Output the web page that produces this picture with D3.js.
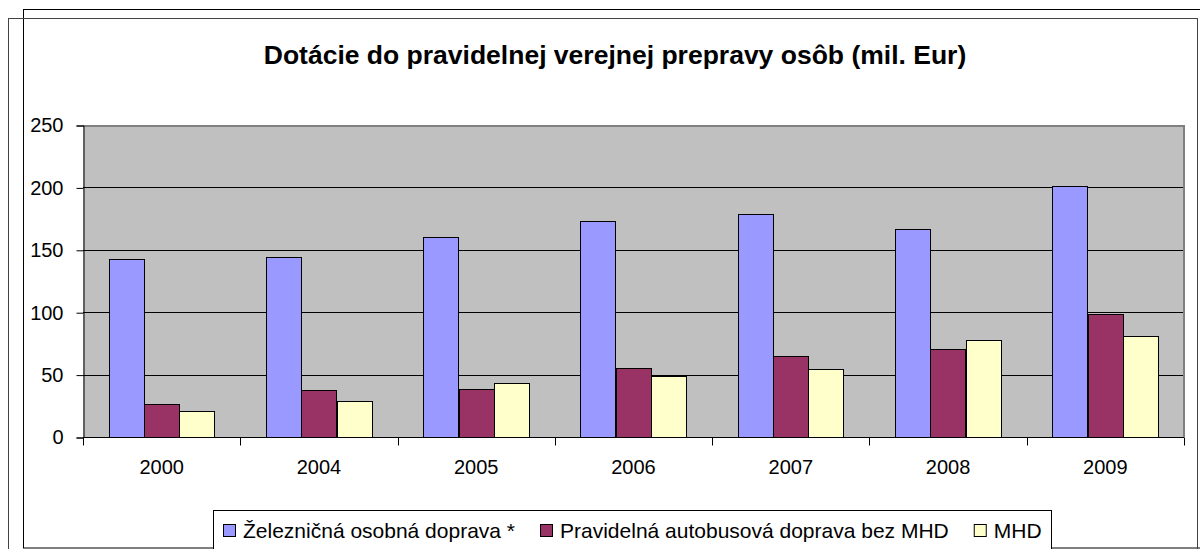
<!DOCTYPE html>
<html lang="sk">
<head>
<meta charset="UTF-8">
<title>Dotácie do pravidelnej verejnej prepravy osôb</title>
<script src="https://d3js.org/d3.v7.min.js"></script>
<style>
    body{ margin:0; background:#fff; }
    text{ font-family:"Liberation Sans", Arial, sans-serif; fill:#000; }
    .frame{ fill:none; stroke-width:1; }
    .grid{ stroke:#000; stroke-width:1; shape-rendering:crispEdges; }
    .bar{ stroke:#000; stroke-width:1; shape-rendering:crispEdges; }
</style>
</head>
<body>
<script>
    // data
    var years = ["2000","2004","2005","2006","2007","2008","2009"];
    var zeleznicna = [142.6, 144.2, 160.6, 173.2, 178.8, 166.3, 201.4];
    var autobusova = [26.5, 37.8, 38.8, 55.3, 65.2, 70.8, 98.5];
    var mhd = [21.0, 29.2, 43.0, 48.6, 54.2, 77.7, 80.6];
    var seriesNames = ["Železničná osobná doprava *", "Pravidelná autobusová doprava bez MHD", "MHD"];
    var colors = ["#9999FF", "#993366", "#FFFFCC"];
    var yTicks = [0, 50, 100, 150, 200, 250];

    var series = [zeleznicna, autobusova, mhd];

    var W = 1200, H = 549;
    var svg = d3.select("body").append("svg").attr("width", W).attr("height", H);

    // outer frames
    svg.append("rect").attr("class","frame").attr("x",23.5).attr("y",9.5)
        .attr("width",1190).attr("height",538.5).attr("stroke","#000");
    svg.append("rect").attr("class","frame").attr("x",8.5).attr("y",18.5)
        .attr("width",1189).attr("height",560).attr("stroke","#444");

    var plot = {left:83, right:1184, top:125, bottom:437};

    var x = d3.scaleBand().domain(years).range([plot.left, plot.right])
        .paddingInner(0.326).paddingOuter(0.163);
    var xs = d3.scaleBand().domain(d3.range(series.length)).range([0, x.bandwidth()]);
    var y = d3.scaleLinear().domain([0,250]).range([plot.bottom, plot.top]);

    // plot background
    svg.append("rect").attr("x",plot.left).attr("y",plot.top)
        .attr("width",plot.right-plot.left).attr("height",plot.bottom-plot.top)
        .attr("fill","#C0C0C0");

    // gridlines
    svg.append("g").selectAll("line").data(yTicks.filter(function(d){return d>0 && d<250;}))
        .enter().append("line").attr("class","grid")
        .attr("x1",plot.left).attr("x2",plot.right)
        .attr("y1",function(d){return Math.round(y(d))+0.5;})
        .attr("y2",function(d){return Math.round(y(d))+0.5;});

    // plot border top/right
    svg.append("path").attr("fill","none").attr("stroke","#808080").attr("stroke-width",2)
        .attr("d","M"+plot.left+","+(plot.top+1)+"H"+(plot.right)+"V"+plot.bottom);

    // bars
    var rows = [];
    years.forEach(function(yr,i){
        series.forEach(function(s,j){ rows.push({year:yr, s:j, v:s[i]}); });
    });
    svg.append("g").selectAll("rect").data(rows).enter().append("rect").attr("class","bar")
        .attr("x",function(d){return Math.round(x(d.year)+xs(d.s))+0.5;})
        .attr("y",function(d){return Math.round(y(d.v))+0.5;})
        .attr("width",function(){return Math.round(xs.bandwidth());})
        .attr("height",function(d){return plot.bottom-Math.round(y(d.v));})
        .attr("fill",function(d){return colors[d.s];});

    // y axis
    var yAxis = svg.append("g").attr("transform","translate("+(plot.left+0.5)+",0.5)")
        .call(d3.axisLeft(y).tickValues(yTicks).tickSize(7).tickPadding(13).tickFormat(d3.format("d")));
    yAxis.select(".domain").attr("stroke","#000");
    yAxis.selectAll(".tick line").attr("stroke","#000");
    yAxis.selectAll("text").attr("font-size",20).attr("font-family","Liberation Sans, Arial");

    // x axis with ticks between categories
    var xAxis = svg.append("g").attr("transform","translate(0,"+(plot.bottom+0.5)+")");
    xAxis.append("line").attr("x1",plot.left).attr("x2",plot.right).attr("stroke","#000");
    var bounds = years.map(function(d){return x(d)-x.step()*x.paddingInner()/2;}).concat([plot.right]);
    xAxis.selectAll("line.tk").data(bounds).enter().append("line").attr("class","tk")
        .attr("x1",function(d){return Math.round(d)+0.5;}).attr("x2",function(d){return Math.round(d)+0.5;})
        .attr("y1",0).attr("y2",8).attr("stroke","#000");
    xAxis.selectAll("text").data(years).enter().append("text")
        .attr("x",function(d){return x(d)+x.bandwidth()/2;}).attr("y",36)
        .attr("text-anchor","middle").attr("font-size",20).text(function(d){return d;});

    // title
    svg.append("text").attr("x",615).attr("y",64).attr("text-anchor","middle")
        .attr("font-size",26.5).attr("font-weight","bold")
        .text("Dotácie do pravidelnej verejnej prepravy osôb (mil. Eur)");

    // legend
    var lg = svg.append("g");
    lg.append("rect").attr("x",213.5).attr("y",510.5).attr("height",40).attr("width",838)
        .attr("fill","#fff").attr("stroke","#000");
    var cx = 223;
    seriesNames.forEach(function(name,i){
        lg.append("rect").attr("x",cx+0.5).attr("y",524.5).attr("width",12).attr("height",12)
            .attr("fill",colors[i]).attr("stroke","#000");
        var t = lg.append("text").attr("x",cx+20).attr("y",538).attr("font-size",21).text(name);
        cx += 20 + t.node().getComputedTextLength() + 25;
    });
</script>
</body>
</html>
